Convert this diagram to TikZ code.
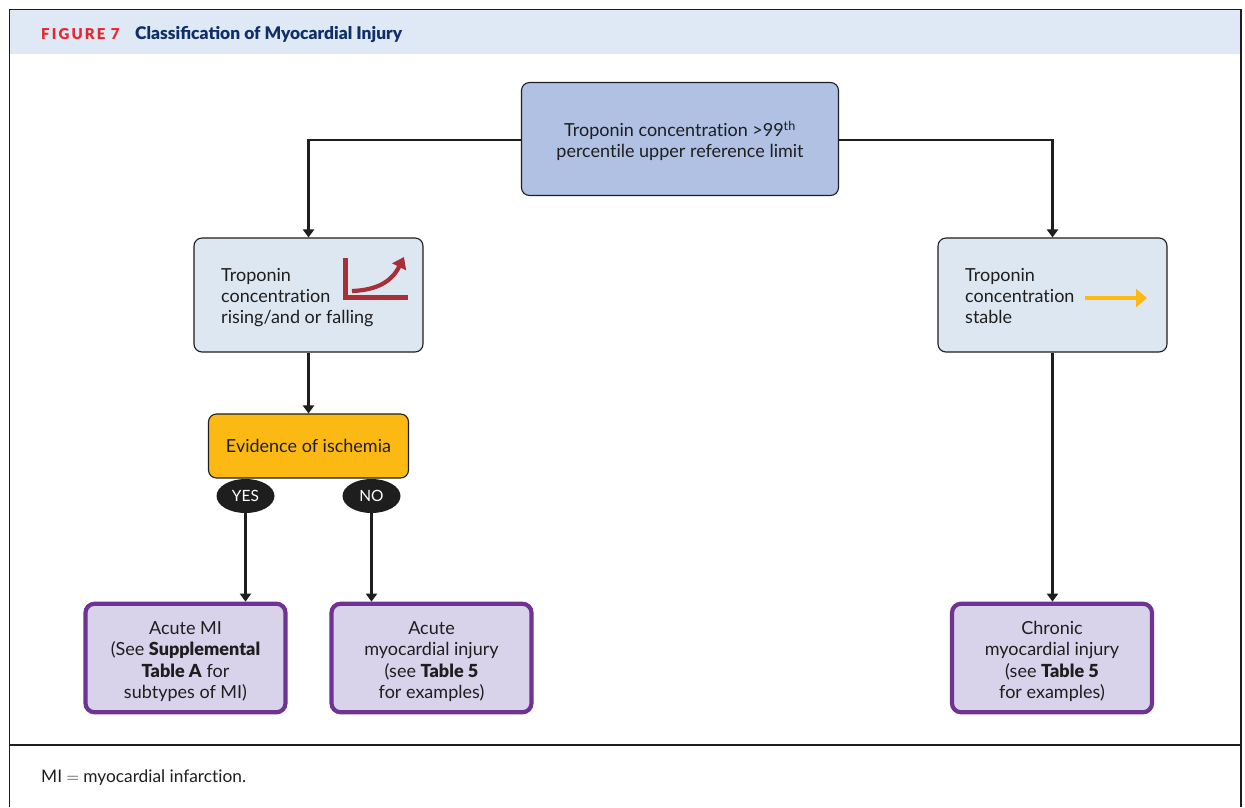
\documentclass[tikz,border=0pt]{standalone}
\usepackage{fontspec}
\setmainfont{Lato}[Ligatures=CommonOff,BoldFont={Lato Black}]
\newfontfamily\titlefont{Lato}[BoldFont={Lato Black}]
\usetikzlibrary{arrows.meta,shapes.geometric}
\definecolor{hdr}{HTML}{DEE9F5}
\definecolor{navy}{HTML}{0F2F66}
\definecolor{figred}{HTML}{E8262E}
\definecolor{topblue}{HTML}{B0C1E3}
\definecolor{pale}{HTML}{DDE7F2}
\definecolor{amber}{HTML}{FDB913}
\definecolor{lilac}{HTML}{D8D3EA}
\definecolor{purp}{HTML}{6F3391}
\definecolor{icored}{HTML}{A82F38}
\definecolor{ink}{HTML}{1E1E1E}
\tikzset{
 x=1pt,y=-1pt,
 boxbase/.style={draw=ink,line width=1.1pt,rounded corners=8pt,align=center,inner sep=0pt,text=ink,font=\fontsize{18}{21}\selectfont},
 topbox/.style={boxbase,fill=topblue,minimum width=317pt,minimum height=113pt},
 midbox/.style={boxbase,fill=pale,minimum width=229pt,minimum height=114pt},
 amberbox/.style={boxbase,fill=amber,minimum width=200pt,minimum height=64pt},
 endbox/.style={draw=purp,line width=4.2pt,rounded corners=9pt,fill=lilac,align=center,inner sep=0pt,text=ink,font=\fontsize{18}{21.3}\selectfont,minimum width=200pt,minimum height=108.5pt},
 pill/.style={ellipse,fill=ink,text=white,inner sep=0pt,minimum width=58pt,minimum height=34pt,font=\fontsize{15.5}{18}\selectfont},
 conn/.style={draw=ink,line width=2.2pt,-{Triangle[length=8pt,width=11pt]}},
 textlab/.style={inner sep=0pt,align=left,text=ink,font=\fontsize{18}{21}\selectfont}
}
\begin{document}
\begin{tikzpicture}
\useasboundingbox (0,0) rectangle (1245,807);
\fill[white] (0,0) rectangle (1245,807);
\fill[hdr] (10,10) rectangle (1241,54);
\draw[ink,line width=1.4pt] (9.5,807) -- (9.5,9.5) -- (1241,9.5) -- (1241,807);
\draw[ink,line width=1.4pt] (9.5,745) -- (1241,745);
\node[inner sep=0pt,anchor=base west,text=figred,font=\fontsize{15}{16}\selectfont\bfseries] (figlab) at (41,39) {\addfontfeature{LetterSpace=14}FIGURE 7};
\node[inner sep=0pt,anchor=base west,text=navy,font=\titlefont\fontsize{17.4}{20}\selectfont\bfseries] (title) at (135,39) {Classification of Myocardial Injury};

\node[topbox] (top) at (680,139) {\rule{0pt}{19pt}Troponin concentration >99\textsuperscript{th}\\percentile upper reference limit};
\node[midbox] (rise) at (308.5,295) {};
\node[midbox] (stable) at (1052.5,295) {};
\node[textlab,anchor=base west] (risetxt) at (221,323.5) {Troponin\\concentration\\rising/and or falling};
\node[textlab,anchor=base west] (stabletxt) at (965,323.5) {Troponin\\concentration\\stable};
\node[amberbox] (isch) at (308.5,446) {Evidence of ischemia};
\node[pill] (yes) at (245.5,496) {YES};
\node[pill] (no) at (371.5,496) {NO};
\node[endbox] (ami) at (185.5,658) {\rule{0pt}{20pt}Acute MI\\(See \textbf{Supplemental}\\\textbf{Table A} for\\subtypes of MI)};
\node[endbox] (aci) at (431.5,658) {\rule{0pt}{20pt}Acute\\myocardial injury\\(see \textbf{Table 5}\\for examples)};
\node[endbox] (cmi) at (1052,658) {\rule{0pt}{20pt}Chronic\\myocardial injury\\(see \textbf{Table 5}\\for examples)};
\node[inner sep=0pt,anchor=base west,text=ink,font=\fontsize{17.3}{20}\selectfont] (foot) at (41,782) {MI \(=\) myocardial infarction.};

\draw[conn] (top.west|-0,140) -| (rise.north);
\draw[conn] (top.east|-0,140) -| (stable.north);
\draw[conn] (rise.south) -- (isch.north);
\draw[conn] (yes.south) -- (yes.south|-ami.north);
\draw[conn] (no.south) -- (no.south|-aci.north);
\draw[conn] (stable.south) -- (stable.south|-cmi.north);

% rising icon
\draw[icored,line width=5pt] (345.5,258) -- (345.5,297) -- (408,297);
\draw[icored,line width=4.2pt,-{Triangle[length=11pt,width=15pt]}] (352,291) .. controls (378,290) and (392,281) .. (404,257);
% stable icon
\draw[amber,line width=4.6pt,-{Triangle[length=11pt,width=18pt]}] (1085,298) -- (1147,298);
\end{tikzpicture}
\end{document}
